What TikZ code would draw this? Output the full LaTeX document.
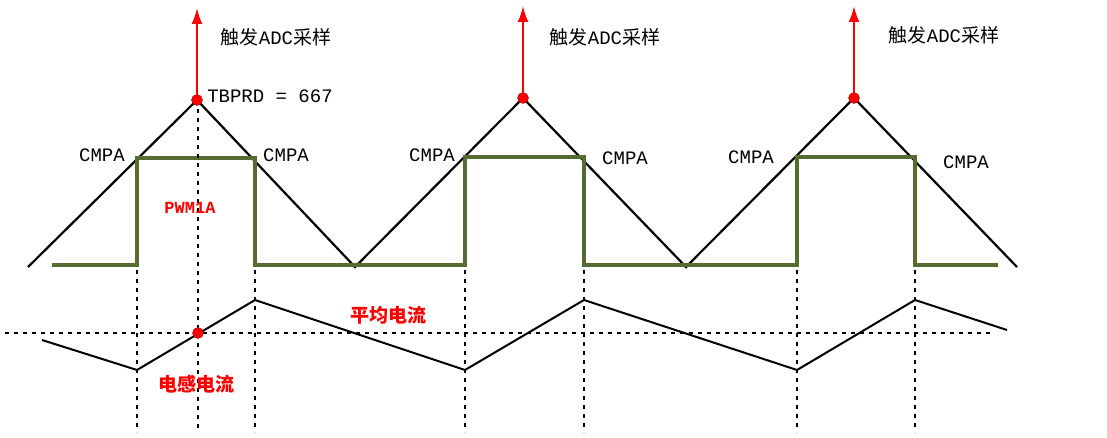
\documentclass[tikz,border=0pt]{standalone}
\usepackage{fontspec}
\usetikzlibrary{arrows.meta}
\setmainfont{Liberation Mono}
\newfontfamily\cjk{Noto Sans CJK SC}
\definecolor{pwmgreen}{RGB}{85,107,47}
\begin{document}
\begin{tikzpicture}[x=1pt,y=-1pt,
  tri/.style={black,line width=2.2pt},
  pwm/.style={pwmgreen,line width=4pt},
  cur/.style={black,line width=2pt},
  rdot/.style={circle,fill=red,draw=red!60!black,inner sep=0,minimum size=11pt},
  arr/.style={red,line width=2.2pt,-{Latex[length=16pt,width=11pt]}},
  dsh/.style={black,line width=1.6pt,dash pattern=on 4pt off 5pt},
  lbl/.style={font=\fontsize{19}{21}\selectfont},
  rl/.style={red,font=\cjk\bfseries\fontsize{19}{21}\selectfont}]
\useasboundingbox (0,0) rectangle (1107,438);
\coordinate (t0) at (28,267); \coordinate (p1) at (197,100); \coordinate (v1) at (355,267);
\coordinate (p2) at (523,98); \coordinate (v2) at (686,267); \coordinate (p3) at (854,98);
\coordinate (t1) at (1017,267);
\draw[tri] (t0)--(p1)--(v1)--(p2)--(v2)--(p3)--(t1);
\draw[pwm] (52,265)--(137,265)--(137,158)--(255,158)--(255,265)--(465,265)--(465,157)--(584,157)--(584,265)--(797,265)--(797,157)--(915,157)--(915,265)--(998,265);
\draw[cur] (42,340)--(137,370)--(255,300)--(465,370)--(584,300)--(797,370)--(915,300)--(1007,330);
\draw[dsh] (5,333)--(990,333);
\foreach \x in {137,255,465,584,797,915} \draw[dsh] (\x,270)--(\x,432);
\draw[dsh] (198,100)--(198,432);
\coordinate (a1) at (197,8); \coordinate (a2) at (523,6); \coordinate (a3) at (854,6);
\draw[arr] (p1)--(a1); \draw[arr] (p2)--(a2); \draw[arr] (p3)--(a3);
\node[rdot] (d1) at (p1) {}; \node[rdot] (d2) at (p2) {}; \node[rdot] (d3) at (p3) {};
\node[rdot] (d4) at (198,333) {};
\node[lbl] (l1) at (276,37) {{\cjk 触发}ADC{\cjk 采样}};
\node[lbl] (l2) at (605,37) {{\cjk 触发}ADC{\cjk 采样}};
\node[lbl] (l3) at (944,35) {{\cjk 触发}ADC{\cjk 采样}};
\node[lbl] (tb) at (270,96) {TBPRD = 667};
\node[lbl] (c1) at (102,155) {CMPA};
\node[lbl] (c2) at (286,155) {CMPA};
\node[lbl] (c3) at (432,155) {CMPA};
\node[lbl] (c4) at (625,158) {CMPA};
\node[lbl] (c5) at (751,157) {CMPA};
\node[lbl] (c6) at (966,162) {CMPA};
\node[red,font=\bfseries\fontsize{17}{19}\selectfont] (pw) at (190,208) {PWM1A};
\node[rl] (avg) at (388,315) {平均电流};
\node[rl] (ind) at (196,384) {电感电流};
\end{tikzpicture}
\end{document}
